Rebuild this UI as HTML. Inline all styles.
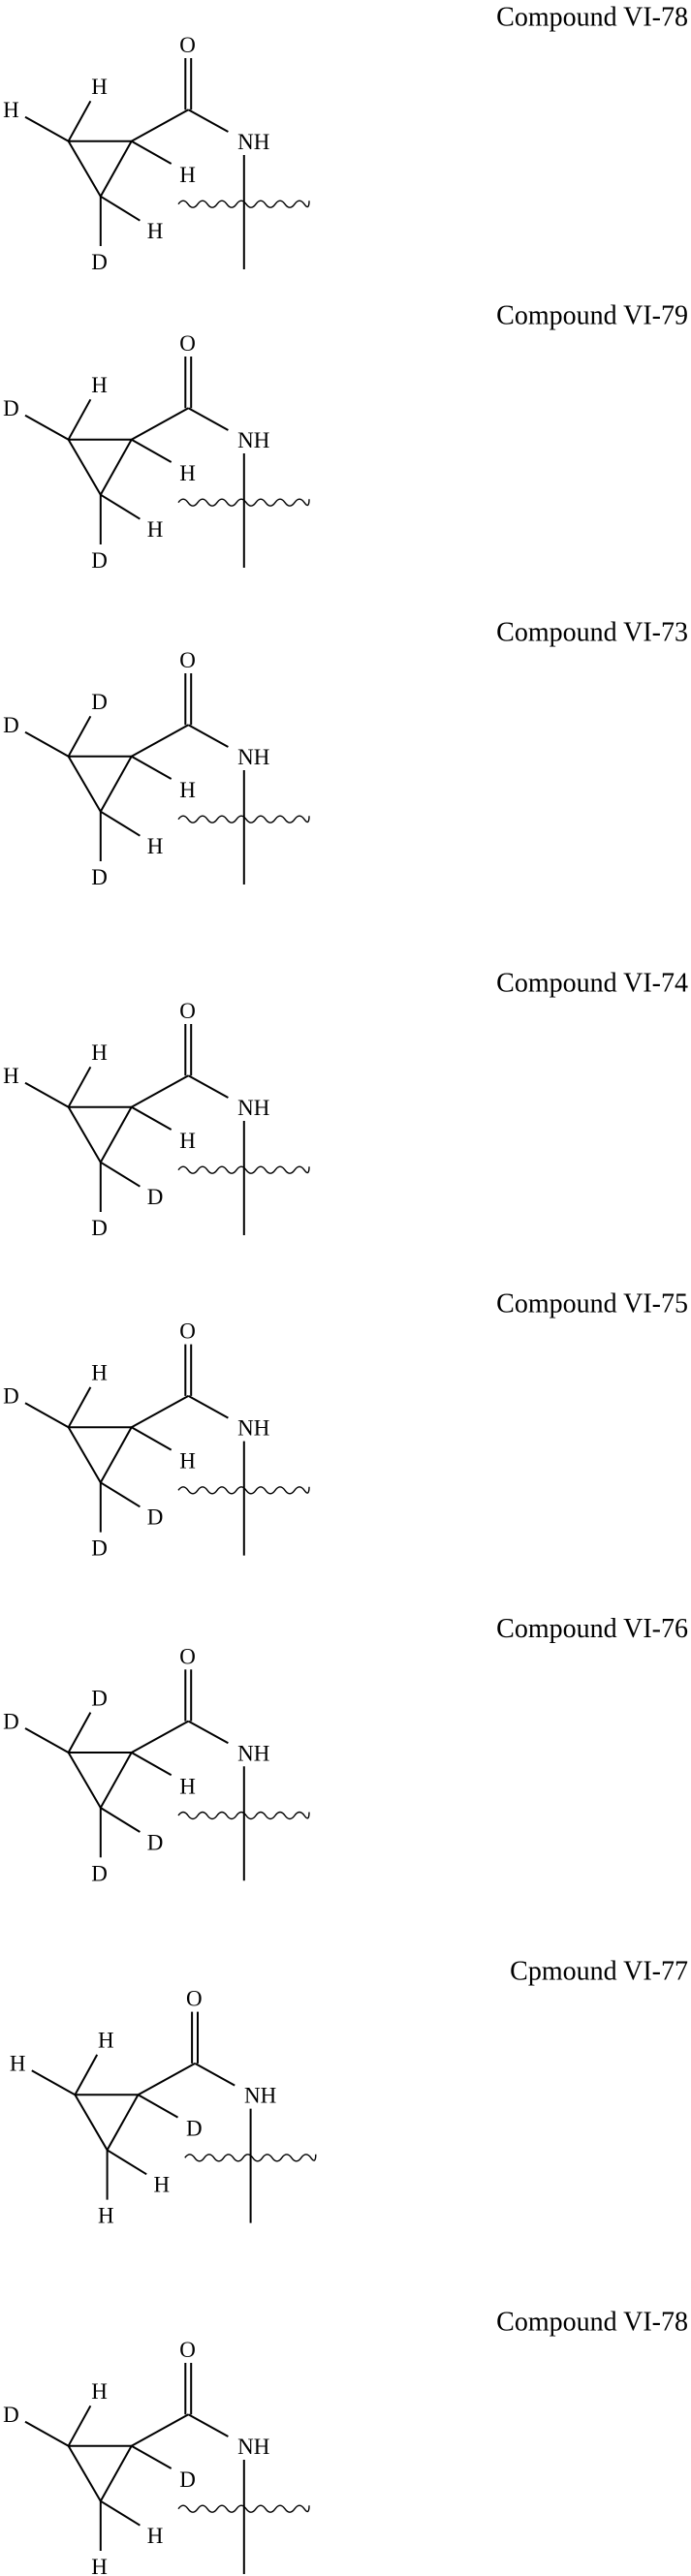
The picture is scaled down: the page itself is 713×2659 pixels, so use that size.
<!DOCTYPE html>
<html><head><meta charset="utf-8"><style>
html,body{margin:0;padding:0;background:#fff;}
svg{display:block;}
text{font-family:"Liberation Serif",serif;fill:#000;}
.a{font-size:23px;text-anchor:middle;}
.c{font-size:28px;text-anchor:end;}
</style></head><body>
<svg width="713" height="2659" viewBox="0 0 713 2659" xmlns="http://www.w3.org/2000/svg">
<defs>
<g id="sk" stroke="#000" stroke-width="2" fill="none">
<path d="M70.6 145.7 L135.7 145.7 L103.8 202.7 Z" stroke-linejoin="miter"/>
<line x1="135.7" y1="145.7" x2="194.4" y2="113.3"/>
<line x1="191.3" y1="60" x2="191.3" y2="113.3"/>
<line x1="197.2" y1="60" x2="197.2" y2="113.3"/>
<line x1="194.4" y1="113.3" x2="235.4" y2="136"/>
<line x1="70.6" y1="145.7" x2="93.4" y2="104.3"/>
<line x1="70.6" y1="145.7" x2="26" y2="120.7"/>
<line x1="135.7" y1="145.7" x2="176.7" y2="169"/>
<line x1="103.8" y1="202.7" x2="144.4" y2="227.7"/>
<line x1="103.8" y1="202.7" x2="103.8" y2="254"/>
<line x1="251.8" y1="160" x2="251.8" y2="278"/>
<path stroke-width="1.4" d="M184 210.7 q5 -7 10 0 t10 0 t10 0 t10 0 t10 0 t10 0 t10 0 t10 0 t10 0 t10 0 t10 0 t10 0 t10 0 t5 -3.5"/>
</g>
</defs>

<g transform="translate(0,0)"><use href="#sk"/>
<text class="c" x="710" y="26.7">Compound VI-78</text>
<text class="a" x="193.5" y="54">O</text><text class="a" x="261.8" y="154">NH</text>
<text class="a" x="102.5" y="97">H</text><text class="a" x="11.4" y="121">H</text><text class="a" x="193.5" y="188">H</text><text class="a" x="160" y="246">H</text><text class="a" x="102.5" y="278">D</text></g>

<g transform="translate(0,308)"><use href="#sk"/>
<text class="c" x="710" y="26.7">Compound VI-79</text>
<text class="a" x="193.5" y="54">O</text><text class="a" x="261.8" y="154">NH</text>
<text class="a" x="102.5" y="97">H</text><text class="a" x="11.4" y="121">D</text><text class="a" x="193.5" y="188">H</text><text class="a" x="160" y="246">H</text><text class="a" x="102.5" y="278">D</text></g>

<g transform="translate(0,635)"><use href="#sk"/>
<text class="c" x="710" y="26.7">Compound VI-73</text>
<text class="a" x="193.5" y="54">O</text><text class="a" x="261.8" y="154">NH</text>
<text class="a" x="102.5" y="97">D</text><text class="a" x="11.4" y="121">D</text><text class="a" x="193.5" y="188">H</text><text class="a" x="160" y="246">H</text><text class="a" x="102.5" y="278">D</text></g>

<g transform="translate(0,997)"><use href="#sk"/>
<text class="c" x="710" y="26.7">Compound VI-74</text>
<text class="a" x="193.5" y="54">O</text><text class="a" x="261.8" y="154">NH</text>
<text class="a" x="102.5" y="97">H</text><text class="a" x="11.4" y="121">H</text><text class="a" x="193.5" y="188">H</text><text class="a" x="160" y="246">D</text><text class="a" x="102.5" y="278">D</text></g>

<g transform="translate(0,1327.6)"><use href="#sk"/>
<text class="c" x="710" y="26.7">Compound VI-75</text>
<text class="a" x="193.5" y="54">O</text><text class="a" x="261.8" y="154">NH</text>
<text class="a" x="102.5" y="97">H</text><text class="a" x="11.4" y="121">D</text><text class="a" x="193.5" y="188">H</text><text class="a" x="160" y="246">D</text><text class="a" x="102.5" y="278">D</text></g>

<g transform="translate(0,1663.3)"><use href="#sk"/>
<text class="c" x="710" y="26.7">Compound VI-76</text>
<text class="a" x="193.5" y="54">O</text><text class="a" x="261.8" y="154">NH</text>
<text class="a" x="102.5" y="97">D</text><text class="a" x="11.4" y="121">D</text><text class="a" x="193.5" y="188">H</text><text class="a" x="160" y="246">D</text><text class="a" x="102.5" y="278">D</text></g>

<g transform="translate(0,2016.6)">
<text class="c" x="710" y="26.7">Cpmound VI-77</text>
<g transform="translate(6.8,0)"><use href="#sk"/>
<text class="a" x="193.5" y="54">O</text><text class="a" x="261.8" y="154">NH</text>
<text class="a" x="102.5" y="97">H</text><text class="a" x="11.4" y="121">H</text><text class="a" x="193.5" y="188">D</text><text class="a" x="160" y="246">H</text><text class="a" x="102.5" y="278">H</text></g></g>

<g transform="translate(0,2379)"><use href="#sk"/>
<text class="c" x="710" y="26.7">Compound VI-78</text>
<text class="a" x="193.5" y="54">O</text><text class="a" x="261.8" y="154">NH</text>
<text class="a" x="102.5" y="97">H</text><text class="a" x="11.4" y="121">D</text><text class="a" x="193.5" y="188">D</text><text class="a" x="160" y="246">H</text><text class="a" x="102.5" y="278">H</text></g>
</svg>
</body></html>
